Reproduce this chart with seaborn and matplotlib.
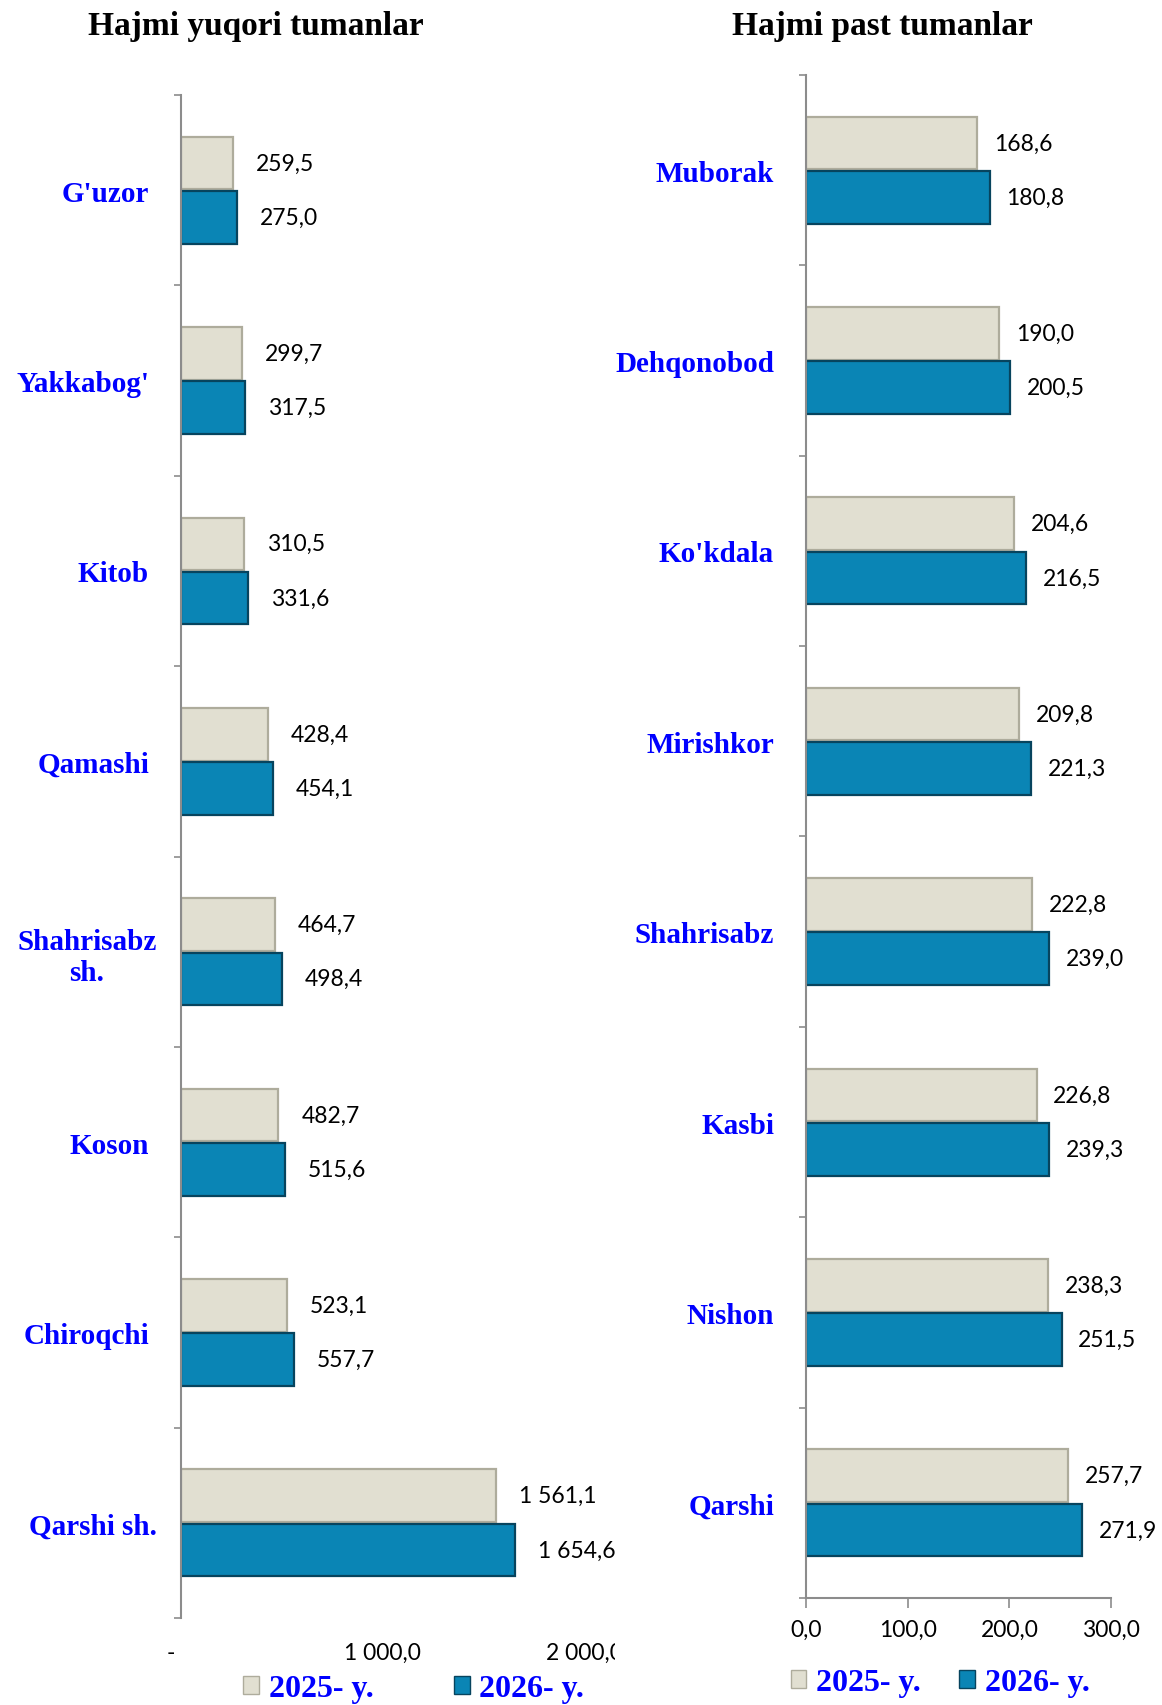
import numpy as np
import pandas as pd
import matplotlib
matplotlib.use("Agg")
import matplotlib.pyplot as plt
import seaborn as sns
from matplotlib.patches import Patch
from matplotlib.font_manager import FontProperties
from matplotlib.transforms import Bbox, TransformedBbox, ScaledTranslation

sns.set_style("white")
plt.rcParams['font.family'] = ['Lato', 'DejaVu Sans']
plt.rcParams['text.color'] = 'black'
plt.rcParams['xtick.color'] = 'black'
plt.rcParams['ytick.color'] = 'black'

# hajmi yuqori tumanlar
top_names = ["G'uzor", "Yakkabog'", "Kitob", "Qamashi", "Shahrisabz\nsh.",
             "Koson", "Chiroqchi", "Qarshi sh."]
top_2025 = [259.5, 299.7, 310.5, 428.4, 464.7, 482.7, 523.1, 1561.1]
top_2026 = [275.0, 317.5, 331.6, 454.1, 498.4, 515.6, 557.7, 1654.6]

# hajmi past tumanlar
low_names = ["Muborak", "Dehqonobod", "Ko'kdala", "Mirishkor", "Shahrisabz",
             "Kasbi", "Nishon", "Qarshi"]
low_2025 = [168.6, 190.0, 204.6, 209.8, 222.8, 226.8, 238.3, 257.7]
low_2026 = [180.8, 200.5, 216.5, 221.3, 239.0, 239.3, 251.5, 271.9]

years = ["2025- y.", "2026- y."]
colors = ['#E1DFD1', '#0A85B5']
edges = ['#AEAC9C', '#07445E']
axis_grey = '#8C8C8C'


def fmt(v):
    return f"{v:,.1f}".replace(",", " ").replace(".", ",")


def make_df(names, a, b):
    return pd.DataFrame({'tuman': names * 2,
                         'qiymat': a + b,
                         'yil': [years[0]] * len(names) + [years[1]] * len(names)})


fig = plt.figure(figsize=(11.62, 17.06), dpi=100)
ax1 = fig.add_axes([0.1558, 0.0510, 0.3735, 0.8927])
ax2 = fig.add_axes([0.6936, 0.0627, 0.2625, 0.8928])


def draw(ax, names, a, b, pad):
    df = make_df(names, a, b)
    sns.barplot(data=df, y='tuman', x='qiymat', hue='yil', palette=colors,
                width=0.57, gap=0.03, orient='h', ax=ax, legend=False,
                saturation=1)
    texts = []
    for i, cont in enumerate(ax.containers):
        for p in cont:
            p.set_edgecolor(edges[i])
            p.set_linewidth(1.6)
        texts += ax.bar_label(cont, labels=[fmt(v) for v in cont.datavalues],
                              padding=pad, fontsize=16.5, color='black')
    n = len(names)
    ax.set_yticks(range(n))
    ax.set_yticklabels(names, fontfamily='Liberation Serif', fontweight='bold',
                       color='#0000FF', fontsize=21, multialignment='center')
    ax.set_yticks(np.arange(-0.5, n, 1), minor=True)
    ax.tick_params(axis='y', which='major', length=0, pad=23)
    ax.tick_params(axis='y', which='minor', length=5, width=1.2,
                   color=axis_grey, left=True)
    ax.set_xlabel('')
    ax.set_ylabel('')
    for s in ['top', 'right']:
        ax.spines[s].set_visible(False)
    ax.spines['left'].set_color(axis_grey)
    ax.spines['left'].set_linewidth(1.5)
    return texts


t1 = draw(ax1, top_names, top_2025, top_2026, 16.5)
draw(ax2, low_names, low_2025, low_2026, 12)

# ikki so'zli nomlar biroz o'ngroqda
for k in [4, 7]:
    lab = ax1.get_yticklabels()[k]
    lab.set_transform(lab.get_transform() + ScaledTranslation(0.075, 0, fig.dpi_scale_trans))

# chap grafik: 2 000 dan keyin kesilgan
ax1.set_xlim(0, 2150)
ax1.set_xticks([0, 1000, 2000])
ax1.set_xticklabels(["- ", "1 000,0", "2 000,0"], fontsize=16.5)
ax1.get_xticklabels()[0].set_ha('right')
ax1.tick_params(axis='x', length=0, pad=17)
ax1.spines['bottom'].set_visible(False)
clip = TransformedBbox(Bbox.from_extents(0, 0, 615 / 1162, 1), fig.transFigure)
for t in t1 + ax1.get_xticklabels():
    t.set_clip_box(clip)
    t.set_clip_on(True)

ax2.set_xlim(0, 300)
ax2.set_xticks([0, 100, 200, 300])
ax2.set_xticklabels(["0,0", "100,0", "200,0", "300,0"], fontsize=16.5)
ax2.tick_params(axis='x', length=7, width=1.2, color=axis_grey, bottom=True, pad=8)
ax2.spines['bottom'].set_color(axis_grey)
ax2.spines['bottom'].set_linewidth(1.5)

fig.text(256 / 1162, 1 - 27 / 1706, "Hajmi yuqori tumanlar", ha='center', va='center',
         fontsize=24, fontweight='bold', family='Liberation Serif', color='black')
fig.text(882 / 1162, 1 - 27 / 1706, "Hajmi past tumanlar", ha='center', va='center',
         fontsize=24, fontweight='bold', family='Liberation Serif', color='black')

handles = [Patch(facecolor=colors[i], edgecolor=edges[i], label=years[i]) for i in range(2)]
lprop = FontProperties(family='Liberation Serif', weight='bold', size=23)
fig.legend(handles=handles, loc='center', bbox_to_anchor=(0.356, 0.0094), ncol=2,
           frameon=False, handlelength=0.5, handleheight=0.5, handletextpad=0.3,
           columnspacing=2.5, prop=lprop, labelcolor='#0000FF', borderpad=0,
           borderaxespad=0)
fig.legend(handles=handles, loc='center', bbox_to_anchor=(0.809, 0.0129), ncol=2,
           frameon=False, handlelength=0.5, handleheight=0.5, handletextpad=0.3,
           columnspacing=1.2, prop=lprop, labelcolor='#0000FF', borderpad=0,
           borderaxespad=0)

fig.savefig("out.png", dpi=100)
